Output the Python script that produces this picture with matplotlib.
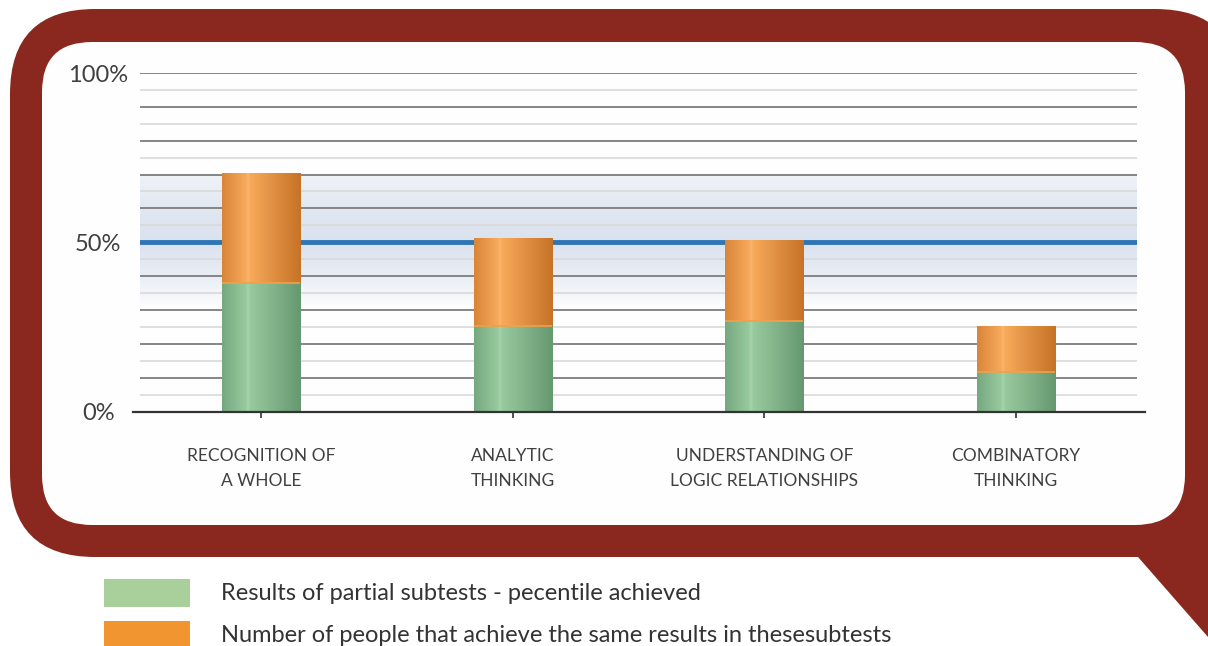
import numpy as np
import matplotlib
matplotlib.use("Agg")
import matplotlib.pyplot as plt
from matplotlib.patches import FancyBboxPatch, Rectangle, Polygon
from matplotlib.colors import LinearSegmentedColormap

plt.rcParams['font.family'] = ['Lato', 'DejaVu Sans']

# data (percent)
categories = ["RECOGNITION OF\nA WHOLE", "ANALYTIC\nTHINKING",
              "UNDERSTANDING OF\nLOGIC RELATIONSHIPS", "COMBINATORY\nTHINKING"]
percentile = [38.0, 25.4, 26.6, 11.8]
people = [32.5, 25.9, 24.0, 13.6]
ytick_vals = [0, 50, 100]
legend_labels = ["Results of partial subtests - pecentile achieved",
                 "Number of people that achieve the same results in thesesubtests"]

RED = '#8A281F'
GREEN = '#9CC9A0'
ORANGE = '#F0952F'
TXT = '#404040'

fig = plt.figure(figsize=(12.08, 6.46), dpi=100)
fig.patch.set_facecolor('white')

# background axes in pixel units (y down) for the speech bubble frame
bg = fig.add_axes([0, 0, 1, 1], zorder=0)
bg.set_xlim(0, 1208)
bg.set_ylim(646, 0)
bg.axis('off')
bg.add_patch(FancyBboxPatch((10, 9), 1240 - 10, 557 - 9,
                            boxstyle="round,pad=0,rounding_size=85",
                            fc=RED, ec='none'))
bg.add_patch(Polygon([(1090, 530), (1138, 557), (1215, 645), (1270, 645), (1270, 480)],
                     closed=True, fc=RED, ec='none'))
bg.add_patch(FancyBboxPatch((42, 42), 1185 - 42, 525 - 42,
                            boxstyle="round,pad=0,rounding_size=50",
                            fc='#FEFEFE', ec='none'))

# legend
bg.add_patch(Rectangle((104, 579), 86, 28, fc='#A9D09A', ec='none'))
bg.add_patch(Rectangle((104, 621), 86, 28, fc=ORANGE, ec='none'))
bg.text(221, 593, legend_labels[0], fontsize=17, color='#333333', va='center', ha='left')
bg.text(221, 635, legend_labels[1], fontsize=17, color='#333333', va='center', ha='left')

# chart axes
ax = fig.add_axes([140 / 1208, 1 - 411.5 / 646, 997 / 1208, 338.5 / 646], zorder=1)
ax.set_facecolor('none')
x = np.arange(len(categories))
width = 0.31

# light blue band behind the 50% line
yy = np.linspace(30, 70, 200)
alpha = np.interp(yy, [30, 40, 50, 60, 70], [0.0, 0.6, 1.0, 0.8, 0.4])
band = np.zeros((len(yy), 2, 4))
band[..., 0] = 0.855
band[..., 1] = 0.89
band[..., 2] = 0.94
band[..., 3] = alpha[:, None]
ax.imshow(band, extent=[-0.5, 3.5, 30, 70], origin='lower', aspect='auto', zorder=0.2,
          interpolation='bilinear')

green_cmap = LinearSegmentedColormap.from_list(
    'g', [(0, '#76A880'), (0.3, '#98C99E'), (0.33, '#A6D4AA'), (0.36, '#98C99E'), (1, '#669870')])
orange_cmap = LinearSegmentedColormap.from_list(
    'o', [(0, '#D8853A'), (0.3, '#F7A95A'), (0.33, '#FBB56C'), (0.36, '#F7A95A'), (1, '#C67227')])

b1 = ax.bar(x, percentile, width, color=GREEN, zorder=2, linewidth=0)
b2 = ax.bar(x, people, width, bottom=percentile, color=ORANGE, zorder=2, linewidth=0)
grad = np.linspace(0, 1, 256).reshape(1, -1)
for bars, cmap in ((b1, green_cmap), (b2, orange_cmap)):
    for p in bars:
        x0, y0 = p.get_x(), p.get_y()
        im = ax.imshow(grad, extent=[x0, x0 + p.get_width(), y0, y0 + p.get_height()],
                       cmap=cmap, aspect='auto', zorder=2.1, interpolation='bilinear')
        im.set_clip_path(p)
# thin line at the join of the two segments
for p in b2:
    ax.plot([p.get_x(), p.get_x() + p.get_width()], [p.get_y(), p.get_y()],
            color='#F3A04A', lw=1.2, zorder=2.2, solid_capstyle='butt')

ax.set_xlim(-0.48, 3.48)
ax.set_ylim(0, 100)

# gridlines (10% dark, 5% light), kept under the bars
ax.set_yticks(np.arange(0, 101, 10))
ax.set_yticks(np.arange(5, 100, 10), minor=True)
ax.set_yticklabels([f"{v}%" if v in ytick_vals else "" for v in range(0, 101, 10)])
ax.set_axisbelow(True)
ax.grid(which='major', axis='y', color='#858585', lw=1.4)
ax.grid(which='minor', axis='y', color='#D9D9D9', lw=1.2)
ax.axhline(50, color='#2E75B6', lw=3.5, zorder=1.5)
ax.axhline(0, xmin=-0.007, xmax=1.008, color='#333333', lw=1.6, zorder=3, clip_on=False)

ax.tick_params(axis='y', which='both', length=0, pad=30, labelsize=17, labelcolor=TXT)
for lab in ax.get_yticklabels():
    lab.set_ha('center')
ax.set_xticks(x)
ax.set_xticklabels(categories, fontsize=12.5, color=TXT, linespacing=1.7)
ax.tick_params(axis='x', length=4, width=1.2, color='#333333', pad=22, direction='out')

for s in ax.spines.values():
    s.set_visible(False)

fig.savefig('out.png', dpi=100)
